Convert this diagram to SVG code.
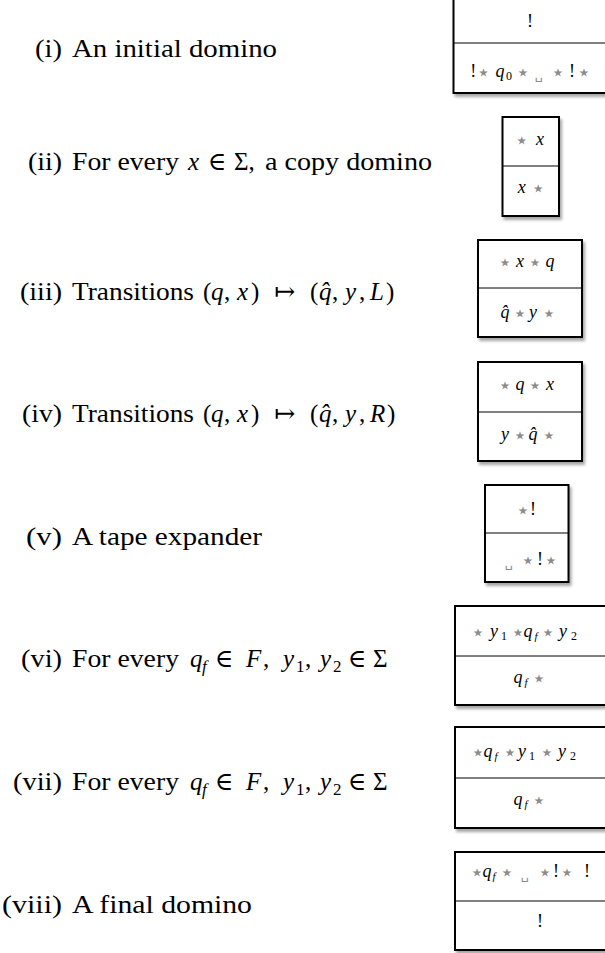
<svg xmlns="http://www.w3.org/2000/svg" width="605" height="953" viewBox="0 0 605 953">
<defs>
<filter id="sh" x="-20%" y="-20%" width="140%" height="140%">
<feDropShadow dx="2" dy="3" stdDeviation="1.6" flood-color="#000" flood-opacity="0.35"/>
</filter>
</defs>
<style>
.box{fill:#fff;stroke:#000;stroke-width:2;filter:url(#sh)}
.div{stroke:#000;stroke-width:1}
.num{font-family:"Liberation Serif",serif;font-size:25px;fill:#000;text-anchor:end}
.lab{font-family:"Liberation Serif",serif;font-size:25px;fill:#000}
.li{font-family:"Liberation Serif",serif;font-size:25px;font-style:italic;fill:#000}
.lc{font-family:"Liberation Serif","DejaVu Serif",serif;font-size:25px;fill:#000;text-anchor:middle}
.lsub{font-family:"Liberation Serif",serif;font-size:17px;fill:#000}
.lsubi{font-family:"Liberation Serif",serif;font-size:17px;font-style:italic;fill:#000}
.m{font-family:"Liberation Serif",serif;font-style:italic;font-size:18px;fill:#000;text-anchor:middle}
.r{font-family:"Liberation Serif",serif;font-size:18px;fill:#000;text-anchor:middle}
.ds{font-family:"Liberation Serif",serif;font-size:12px;fill:#000;text-anchor:middle}
.dsi{font-family:"Liberation Serif",serif;font-style:italic;font-size:11px;fill:#000;text-anchor:middle}
.s{font-family:"DejaVu Sans",sans-serif;font-size:23px;fill:#8c8c8c;text-anchor:middle}
.b{font-family:"DejaVu Sans",sans-serif;font-size:13px;fill:#8c8c8c;text-anchor:middle}
</style>
<rect width="605" height="953" fill="#fff"/>

<g id="labels">
<g id="label-i"><text class="num" x="62" y="57" textLength="27" lengthAdjust="spacingAndGlyphs">(i)</text><text class="lab" x="72" y="57" textLength="205" lengthAdjust="spacingAndGlyphs">An initial domino</text></g>

<g id="label-ii"><text class="num" x="62" y="170" textLength="34" lengthAdjust="spacingAndGlyphs">(ii)</text>
<text class="lab" x="72" y="170" textLength="107" lengthAdjust="spacingAndGlyphs">For every</text>
<text class="li" x="188" y="170">x</text>
<text class="lc" x="217" y="170">∈</text>
<text class="lab" x="234" y="170">Σ,</text>
<text class="lab" x="265" y="170" textLength="167" lengthAdjust="spacingAndGlyphs">a copy domino</text></g>

<g id="label-iii"><text class="num" x="62" y="300" textLength="42" lengthAdjust="spacingAndGlyphs">(iii)</text>
<text class="lab" x="72" y="300" textLength="122" lengthAdjust="spacingAndGlyphs">Transitions</text>
<text class="lab" x="203" y="300">(</text><text class="li" x="211" y="300">q</text><text class="lab" x="224" y="300">,</text><text class="li" x="237" y="300">x</text><text class="lab" x="251" y="300">)</text>
<text class="lc" x="285" y="300">↦</text>
<text class="lab" x="310" y="300">(</text><text class="li" x="319" y="300">q̂</text><text class="lab" x="332" y="300">,</text><text class="li" x="345" y="300">y</text><text class="lab" x="359" y="300">,</text><text class="li" x="370" y="300">L</text><text class="lab" x="386" y="300">)</text></g>

<g id="label-iv"><text class="num" x="62" y="422" textLength="40" lengthAdjust="spacingAndGlyphs">(iv)</text>
<text class="lab" x="72" y="422" textLength="122" lengthAdjust="spacingAndGlyphs">Transitions</text>
<text class="lab" x="203" y="422">(</text><text class="li" x="211" y="422">q</text><text class="lab" x="224" y="422">,</text><text class="li" x="237" y="422">x</text><text class="lab" x="251" y="422">)</text>
<text class="lc" x="285" y="422">↦</text>
<text class="lab" x="310" y="422">(</text><text class="li" x="319" y="422">q̂</text><text class="lab" x="332" y="422">,</text><text class="li" x="345" y="422">y</text><text class="lab" x="359" y="422">,</text><text class="li" x="370" y="422">R</text><text class="lab" x="387" y="422">)</text></g>

<g id="label-v"><text class="num" x="62" y="545" textLength="36" lengthAdjust="spacingAndGlyphs">(v)</text><text class="lab" x="72" y="545" textLength="190" lengthAdjust="spacingAndGlyphs">A tape expander</text></g>

<g id="label-vi"><text class="num" x="62" y="667" textLength="41" lengthAdjust="spacingAndGlyphs">(vi)</text>
<text class="lab" x="72" y="667" textLength="107" lengthAdjust="spacingAndGlyphs">For every</text>
<text class="li" x="190" y="667">q</text><text class="lsubi" x="202" y="672">f</text>
<text class="lc" x="224" y="667">∈</text>
<text class="li" x="246" y="667">F</text><text class="lab" x="263" y="667">,</text>
<text class="li" x="283" y="667">y</text><text class="lsub" x="296" y="672">1</text><text class="lab" x="305" y="667">,</text>
<text class="li" x="320" y="667">y</text><text class="lsub" x="333" y="672">2</text>
<text class="lc" x="357" y="667">∈</text>
<text class="lab" x="373" y="667">Σ</text></g>

<g id="label-vii"><text class="num" x="62" y="790" textLength="49" lengthAdjust="spacingAndGlyphs">(vii)</text>
<text class="lab" x="72" y="790" textLength="107" lengthAdjust="spacingAndGlyphs">For every</text>
<text class="li" x="190" y="790">q</text><text class="lsubi" x="202" y="795">f</text>
<text class="lc" x="224" y="790">∈</text>
<text class="li" x="246" y="790">F</text><text class="lab" x="263" y="790">,</text>
<text class="li" x="283" y="790">y</text><text class="lsub" x="296" y="795">1</text><text class="lab" x="305" y="790">,</text>
<text class="li" x="320" y="790">y</text><text class="lsub" x="333" y="795">2</text>
<text class="lc" x="357" y="790">∈</text>
<text class="lab" x="373" y="790">Σ</text></g>

<g id="label-viii"><text class="num" x="62" y="913" textLength="60" lengthAdjust="spacingAndGlyphs">(viii)</text><text class="lab" x="72" y="913" textLength="180" lengthAdjust="spacingAndGlyphs">A final domino</text></g>
</g>

<g id="domino-i">
<rect class="box" x="453.5" y="-10" width="170" height="103"/>
<line class="div" x1="453.5" y1="43" x2="623" y2="43"/>
<text class="r" x="530" y="27">!</text>
<text class="r" x="473.3" y="77">!</text>
<text class="s" x="483.5" y="79.5">⋆</text>
<text class="m" x="500" y="77">q</text>
<text class="ds" x="509" y="80">0</text>
<text class="s" x="523" y="79.5">⋆</text>
<text class="b" x="539" y="79">␣</text>
<text class="s" x="558" y="79.5">⋆</text>
<text class="r" x="572" y="77">!</text>
<text class="s" x="584" y="79.5">⋆</text>
</g>

<g id="domino-ii">
<rect class="box" x="502.5" y="117" width="56.5" height="99"/>
<line class="div" x1="502.5" y1="166" x2="559" y2="166"/>
<text class="s" x="521.7" y="147.5">⋆</text>
<text class="m" x="540" y="145">x</text>
<text class="m" x="521.7" y="193">x</text>
<text class="s" x="538.3" y="195.5">⋆</text>
</g>

<g id="domino-iii">
<rect class="box" x="478" y="240" width="104" height="97"/>
<line class="div" x1="478" y1="288" x2="582" y2="288"/>
<text class="s" x="505" y="269.5">⋆</text>
<text class="m" x="520" y="267">x</text>
<text class="s" x="535" y="269.5">⋆</text>
<text class="m" x="550" y="267">q</text>
<text class="m" x="505" y="318">q̂</text>
<text class="s" x="520" y="320.5">⋆</text>
<text class="m" x="533" y="318">y</text>
<text class="s" x="549" y="320.5">⋆</text>
</g>

<g id="domino-iv">
<rect class="box" x="478" y="362" width="104" height="99"/>
<line class="div" x1="478" y1="412" x2="582" y2="412"/>
<text class="s" x="505" y="392.5">⋆</text>
<text class="m" x="520" y="390">q</text>
<text class="s" x="535" y="392.5">⋆</text>
<text class="m" x="550" y="390">x</text>
<text class="m" x="505" y="440">y</text>
<text class="s" x="520" y="442.5">⋆</text>
<text class="m" x="533" y="440">q̂</text>
<text class="s" x="549" y="442.5">⋆</text>
</g>

<g id="domino-v">
<rect class="box" x="485" y="485" width="83.5" height="97"/>
<line class="div" x1="485" y1="533" x2="568.5" y2="533"/>
<text class="s" x="523" y="517.5">⋆</text>
<text class="r" x="533" y="515">!</text>
<text class="b" x="509" y="567">␣</text>
<text class="s" x="528" y="567.5">⋆</text>
<text class="r" x="540" y="565">!</text>
<text class="s" x="551" y="567.5">⋆</text>
</g>

<g id="domino-vi">
<rect class="box" x="455" y="606" width="170" height="99"/>
<line class="div" x1="455" y1="656" x2="625" y2="656"/>
<text class="s" x="478" y="639.5">⋆</text>
<text class="m" x="494" y="637">y</text>
<text class="ds" x="504" y="640">1</text>
<text class="s" x="518" y="639.5">⋆</text>
<text class="m" x="528" y="637">q</text>
<text class="dsi" x="536" y="640">f</text>
<text class="s" x="548" y="639.5">⋆</text>
<text class="m" x="563" y="637">y</text>
<text class="ds" x="574" y="640">2</text>
<text class="m" x="518" y="683">q</text>
<text class="dsi" x="526" y="686">f</text>
<text class="s" x="539" y="685.5">⋆</text>
</g>

<g id="domino-vii">
<rect class="box" x="455" y="727" width="170" height="101"/>
<line class="div" x1="455" y1="778" x2="625" y2="778"/>
<text class="s" x="478" y="759.5">⋆</text>
<text class="m" x="488" y="757">q</text>
<text class="dsi" x="496" y="760">f</text>
<text class="s" x="510" y="759.5">⋆</text>
<text class="m" x="522" y="757">y</text>
<text class="ds" x="532" y="760">1</text>
<text class="s" x="547" y="759.5">⋆</text>
<text class="m" x="562" y="757">y</text>
<text class="ds" x="573" y="760">2</text>
<text class="m" x="518" y="805">q</text>
<text class="dsi" x="526" y="808">f</text>
<text class="s" x="539" y="807.5">⋆</text>
</g>

<g id="domino-viii">
<rect class="box" x="455" y="852" width="170" height="98"/>
<line class="div" x1="455" y1="901" x2="625" y2="901"/>
<text class="s" x="477" y="879.5">⋆</text>
<text class="m" x="487" y="877">q</text>
<text class="dsi" x="494" y="880">f</text>
<text class="s" x="507" y="879.5">⋆</text>
<text class="b" x="525" y="879">␣</text>
<text class="s" x="545" y="879.5">⋆</text>
<text class="r" x="556" y="877">!</text>
<text class="s" x="567" y="879.5">⋆</text>
<text class="r" x="587" y="877">!</text>
<text class="r" x="540" y="927">!</text>
</g>

<g id="connectors"/>
</svg>
